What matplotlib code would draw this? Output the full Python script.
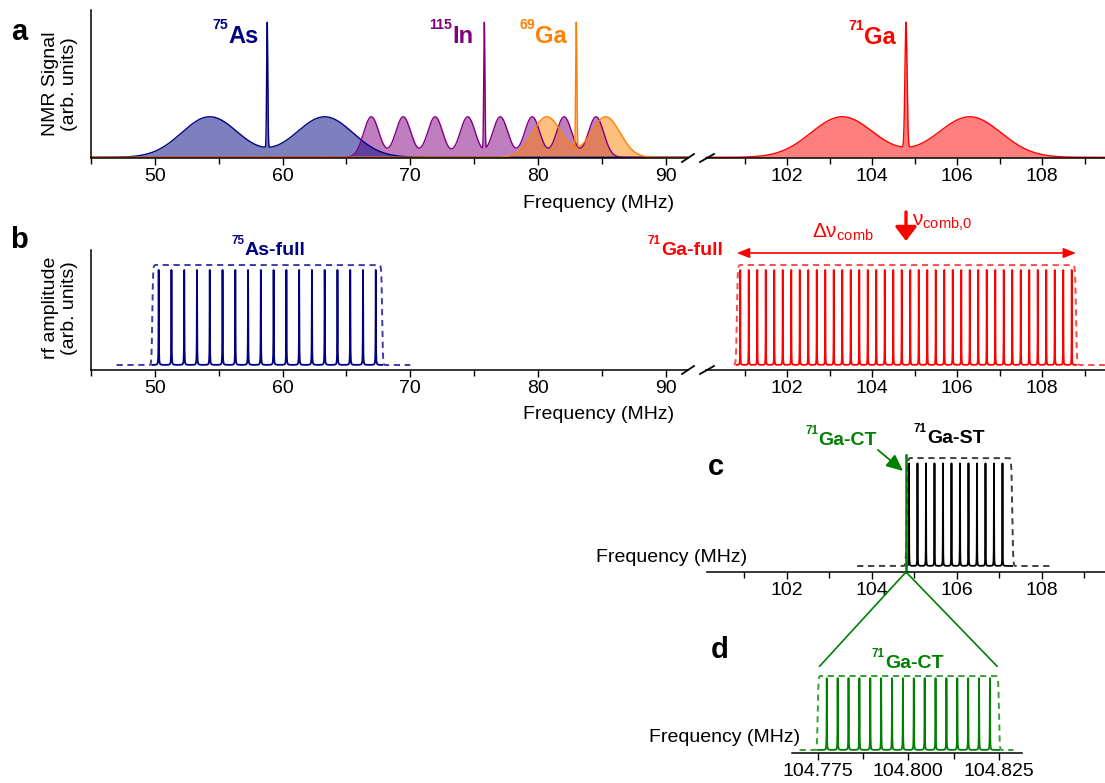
import numpy as np
import matplotlib
matplotlib.use("Agg")
import matplotlib.pyplot as plt
from matplotlib.patches import ConnectionPatch
from matplotlib.lines import Line2D
from matplotlib.ticker import MultipleLocator, FixedLocator, FormatStrFormatter

plt.rcParams['font.family'] = ['Liberation Sans', 'DejaVu Sans']
plt.rcParams['mathtext.fontset'] = 'custom'
plt.rcParams['mathtext.rm'] = 'Liberation Sans'
plt.rcParams['mathtext.bf'] = 'Liberation Sans:bold'
plt.rcParams['mathtext.it'] = 'Liberation Sans:italic'
plt.rcParams['mathtext.sf'] = 'Liberation Sans'

# ---------------- data ----------------
# (a) NMR spectra: central line (MHz) and quadrupolar satellites (MHz)
as75_center = 58.8
as75_satellites = [54.3, 63.3]
as75_sigma = 2.2

in115_center = 75.8
in115_satellites = [66.95, 69.45, 71.95, 74.5, 77.05, 79.55, 82.05, 84.55]
in115_sigma = 0.6

ga69_center = 83.0
ga69_satellites = [80.7, 85.3]
ga69_sigma = 1.13

ga71_center = 104.8
ga71_satellites = [103.3, 106.3]
ga71_sigma = 0.735

satellite_height = 0.30
central_height = 1.0

# (b)-(d) rf frequency combs: tooth frequencies (MHz), band edges, dashed envelope span
as_full_teeth = [50.3, 51.3, 52.3, 53.3, 54.3, 55.3, 56.3, 57.3, 58.3,
                 59.3, 60.3, 61.3, 62.3, 63.3, 64.3, 65.3, 66.3, 67.3]
as_full_band = (49.8, 67.8)
as_full_span = (47.0, 70.0)

ga_full_teeth = [100.9, 101.1, 101.3, 101.5, 101.7, 101.9, 102.1, 102.3, 102.5, 102.7,
                 102.9, 103.1, 103.3, 103.5, 103.7, 103.9, 104.1, 104.3, 104.5, 104.7,
                 104.9, 105.1, 105.3, 105.5, 105.7, 105.9, 106.1, 106.3, 106.5, 106.7,
                 106.9, 107.1, 107.3, 107.5, 107.7, 107.9, 108.1, 108.3, 108.5, 108.7]
ga_full_band = (100.82, 108.8)
ga_full_span = (100.75, 109.48)
comb_center = 104.8

ga_st_teeth = [104.87, 105.07, 105.27, 105.47, 105.67, 105.87,
               106.07, 106.27, 106.47, 106.67, 106.87, 107.07]
ga_st_band = (104.82, 107.3)
ga_st_span = (103.65, 108.25)

ga_ct_teeth = [104.7775, 104.7805, 104.7835, 104.7865, 104.7895, 104.7925, 104.7955, 104.7985,
               104.8015, 104.8045, 104.8075, 104.8105, 104.8135, 104.8165, 104.8195, 104.8225]
ga_ct_band = (104.775, 104.825)
ga_ct_span = (104.7700, 104.8290)

tooth_height = 0.95
ct_tooth_height = 0.97

# tick positions
ticks_low = [50, 60, 70, 80, 90]
ticks_high = [102, 104, 106, 108]
ticks_ct = [104.775, 104.800, 104.825]

# colours
NAVY = '#000080'
PURPLE = '#800080'
ORANGE = '#ff8000'
RED = '#ff0000'
GREEN = '#008000'

# ---------------- helpers ----------------
W, H = 1105, 783
fig = plt.figure(figsize=(W / 100, H / 100), dpi=100)


def box(x0, y0, x1, y1):
    return [x0 / W, 1 - y1 / H, (x1 - x0) / W, (y1 - y0) / H]


def fx(x):
    return x / W


def fy(y):
    return 1 - y / H


def gauss(x, c, s):
    return np.exp(-0.5 * ((x - c) / s) ** 2)


def spectrum(x, center, sats, sigma, spike_sigma):
    y = np.zeros_like(x)
    base = 0.0
    for c in sats:
        y += satellite_height * gauss(x, c, sigma)
        base += satellite_height * gauss(center, c, sigma)
    y += (central_height - base) * gauss(x, center, spike_sigma)
    return y


def comb(x, teeth, gamma, height):
    y = np.zeros_like(x)
    for t in teeth:
        y += height * gamma ** 2 / ((x - t) ** 2 + gamma ** 2)
    return y


def envelope(x, band, s):
    lo, hi = band
    return 0.25 * (1 + np.tanh((x - lo) / s)) * (1 + np.tanh((hi - x) / s))


def style(ax, left=False):
    for s in ['top', 'right']:
        ax.spines[s].set_visible(False)
    ax.spines['left'].set_visible(left)
    ax.spines['left'].set_linewidth(1.1)
    ax.spines['bottom'].set_linewidth(1.1)
    ax.set_yticks([])
    ax.tick_params(axis='x', which='both', direction='out', width=1.0,
                   labelsize=14, pad=2.5, color='black')
    ax.tick_params(axis='x', which='major', length=5)
    ax.tick_params(axis='x', which='minor', length=4)
    ax.patch.set_visible(False)


def low_axis(ax):
    ax.set_xlim(45, 91.75)
    ax.xaxis.set_major_locator(FixedLocator(ticks_low))
    ax.xaxis.set_minor_locator(MultipleLocator(5))


def high_axis(ax, left_px=706):
    ax.set_xlim(102 - (787 - left_px) / 42.5, 102 + (1105 - 787) / 42.5)
    ax.xaxis.set_major_locator(FixedLocator(ticks_high))
    ax.xaxis.set_minor_locator(FixedLocator([101, 103, 105, 107, 109]))


def break_marks(y):
    for (x0, x1) in [(682, 694), (700, 714)]:
        fig.add_artist(Line2D([fx(x0), fx(x1)], [fy(y + 4), fy(y - 4)],
                              color='black', lw=1.3))


renderer = fig.canvas.get_renderer()


def iso_label(x, y, mass, name, size, color, ha='right'):
    t = fig.text(fx(x), fy(y), name, fontsize=size, fontweight='bold',
                 color=color, ha=ha, va='baseline')
    bb = t.get_window_extent(renderer)
    cap = 0.716 * size * 100 / 72
    fig.text((bb.x0 - 0.5) / W, fy(y - 0.8 * cap), mass, fontsize=size * 0.6,
             fontweight='bold', color=color, ha='right', va='baseline')


# ---------------- panel a ----------------
ax_a1 = fig.add_axes(box(91, 10, 688, 158))
ax_a2 = fig.add_axes(box(706, 10, 1105, 158))
for ax in (ax_a1, ax_a2):
    style(ax, left=(ax is ax_a1))
    ax.set_ylim(-0.005, 1.09)
low_axis(ax_a1)
high_axis(ax_a2)

xa = np.linspace(45, 91.75, 20000)
y_as = spectrum(xa, as75_center, as75_satellites, as75_sigma, 0.045)
y_in = spectrum(xa, in115_center, in115_satellites, in115_sigma, 0.045)
y_g69 = spectrum(xa, ga69_center, ga69_satellites, ga69_sigma, 0.045)
ax_a1.fill_between(xa, y_in, 0, color=PURPLE, alpha=0.5, lw=0)
ax_a1.fill_between(xa, y_as, 0, color=NAVY, alpha=0.5, lw=0)
ax_a1.fill_between(xa, y_g69, 0, color=ORANGE, alpha=0.5, lw=0)
ax_a1.plot(xa, y_as, color=NAVY, lw=1.0)
ax_a1.plot(xa, y_in, color=PURPLE, lw=1.0)
ax_a1.plot(xa, y_g69, color=ORANGE, lw=1.0)

xh = np.linspace(100.0, 109.6, 20000)
y_g71 = spectrum(xh, ga71_center, ga71_satellites, ga71_sigma, 0.025)
ax_a2.fill_between(xh, y_g71, 0, color=RED, alpha=0.5, lw=0)
ax_a2.plot(xh, y_g71, color=RED, lw=1.0)

break_marks(158)
fig.text(fx(19), fy(40), 'a', fontsize=21, fontweight='bold', ha='center', va='baseline')
fig.text(fx(60), fy(84), 'NMR Signal\n(arb. units)', fontsize=14, rotation=90,
         ha='center', va='center', multialignment='center')
fig.text(fx(674), fy(204), 'Frequency (MHz)', fontsize=14, ha='right', va='center')

iso_label(259, 43, '75', 'As', 17, NAVY)
iso_label(474, 43, '115', 'In', 17, PURPLE)
iso_label(567, 43, '69', 'Ga', 17, ORANGE)
iso_label(896, 44, '71', 'Ga', 17, RED)

# ---------------- panel b ----------------
ax_b1 = fig.add_axes(box(91, 250, 688, 370))
ax_b2 = fig.add_axes(box(706, 250, 1105, 370))
for ax in (ax_b1, ax_b2):
    style(ax, left=(ax is ax_b1))
    ax.set_ylim(-0.05, 1.15)
low_axis(ax_b1)
high_axis(ax_b2)

xs = np.linspace(*as_full_span, 30000)
ax_b1.plot(xs, envelope(xs, as_full_band, 0.06), color='#3b3ba8', lw=1.4,
           ls=(0, (3.2, 2.4)))
xt = np.linspace(*as_full_band, 40000)
ax_b1.plot(xt, comb(xt, as_full_teeth, 0.012, tooth_height), color=NAVY, lw=1.3)

xs = np.linspace(*ga_full_span, 30000)
ax_b2.plot(xs, envelope(xs, ga_full_band, 0.02), color='#ff4a4a', lw=1.4,
           ls=(0, (3.2, 2.4)))
xt = np.linspace(*ga_full_band, 60000)
ax_b2.plot(xt, comb(xt, ga_full_teeth, 0.0025, tooth_height), color=RED, lw=1.3)

# comb bandwidth and centre frequency
ax_b2.annotate('', xy=(ga_full_band[1], 1.12), xytext=(ga_full_band[0], 1.12),
               arrowprops=dict(arrowstyle='<|-|>,head_length=0.75,head_width=0.3',
                               color=RED, lw=1.2, mutation_scale=10,
                               shrinkA=0, shrinkB=0),
               annotation_clip=False)
ax_b2.annotate('', xy=(comb_center, 1.24), xytext=(comb_center, 1.53),
               arrowprops=dict(arrowstyle='-|>,head_length=0.85,head_width=0.65',
                               color=RED, lw=2.4, mutation_scale=10,
                               shrinkA=0, shrinkB=0),
               annotation_clip=False)
fig.text(fx(812), fy(238), r'$\mathrm{\Delta\nu_{comb}}$', fontsize=15, color=RED,
         ha='left', va='baseline')
fig.text(fx(912), fy(226), r'$\mathrm{\nu_{comb{,}0}}$', fontsize=15, color=RED,
         ha='left', va='baseline')

break_marks(370)
fig.text(fx(19), fy(248), 'b', fontsize=21, fontweight='bold', ha='center', va='baseline')
fig.text(fx(60), fy(308), 'rf amplitude\n(arb. units)', fontsize=14, rotation=90,
         ha='center', va='center', multialignment='center')
fig.text(fx(674), fy(415), 'Frequency (MHz)', fontsize=14, ha='right', va='center')
iso_label(245, 255, '75', 'As-full', 14, NAVY, ha='left')
iso_label(723, 255, '71', 'Ga-full', 14, RED, ha='right')

# ---------------- panel c ----------------
ax_c = fig.add_axes(box(707, 440, 1105, 572))
style(ax_c)
c_ylim = (-0.0556, 1.167)
ax_c.set_ylim(*c_ylim)
high_axis(ax_c, left_px=707)

xs = np.linspace(*ga_st_span, 20000)
ax_c.plot(xs, envelope(xs, ga_st_band, 0.02), color='#404040', lw=1.4,
          ls=(0, (3.2, 2.4)))
xt = np.linspace(ga_st_band[0], ga_st_band[1], 40000)
ax_c.plot(xt, comb(xt, ga_st_teeth, 0.0025, tooth_height), color='black', lw=1.3)
ct_mid = 0.5 * (ga_ct_band[0] + ga_ct_band[1])
ax_c.plot([ct_mid, ct_mid], [c_ylim[0], 1.03], color=GREEN, lw=1.8, clip_on=False)
ax_c.annotate('', xy=(104.73, 0.88), xytext=(104.14, 1.075),
              arrowprops=dict(arrowstyle='-|>,head_length=1.0,head_width=0.45',
                              color=GREEN, lw=1.3, mutation_scale=10,
                              shrinkA=0, shrinkB=0),
              annotation_clip=False)

fig.text(fx(716), fy(475), 'c', fontsize=21, fontweight='bold', ha='center', va='baseline')
fig.text(fx(747), fy(557), 'Frequency (MHz)', fontsize=14, ha='right', va='center')
iso_label(877, 445, '71', 'Ga-CT', 14, GREEN, ha='right')
iso_label(927, 443, '71', 'Ga-ST', 14, 'black', ha='left')

# ---------------- panel d ----------------
ax_d = fig.add_axes(box(792, 660, 1022, 753))
style(ax_d)
ax_d.set_ylim(-0.0405, 1.216)
ax_d.set_xlim(104.775 - (817.7 - 792) / 3625, 104.825 + (1022 - 999) / 3625)
ax_d.xaxis.set_major_locator(FixedLocator(ticks_ct))
ax_d.xaxis.set_minor_locator(FixedLocator([104.7875, 104.8125]))
ax_d.xaxis.set_major_formatter(FormatStrFormatter('%.3f'))

xs = np.linspace(*ga_ct_span, 20000)
ax_d.plot(xs, envelope(xs, ga_ct_band, 0.0002), color='#35a035', lw=1.4,
          ls=(0, (3.2, 2.4)))
xt = np.linspace(*ga_ct_band, 40000)
ax_d.plot(xt, comb(xt, ga_ct_teeth, 0.00004, ct_tooth_height), color=GREEN, lw=1.3)

fig.text(fx(720), fy(658), 'd', fontsize=21, fontweight='bold', ha='center', va='baseline')
fig.text(fx(800), fy(737), 'Frequency (MHz)', fontsize=14, ha='right', va='center')
iso_label(885, 668, '71', 'Ga-CT', 14, GREEN, ha='left')

# zoom lines from the CT line in (c) to the band in (d)
for xd in ga_ct_band:
    con = ConnectionPatch(xyA=(ct_mid, c_ylim[0]), coordsA=ax_c.transData,
                          xyB=(xd + (0.0005 if xd < ct_mid else -0.0005), 1.13),
                          coordsB=ax_d.transData, color=GREEN, lw=1.2)
    fig.add_artist(con)

fig.savefig('out.png', dpi=100)
